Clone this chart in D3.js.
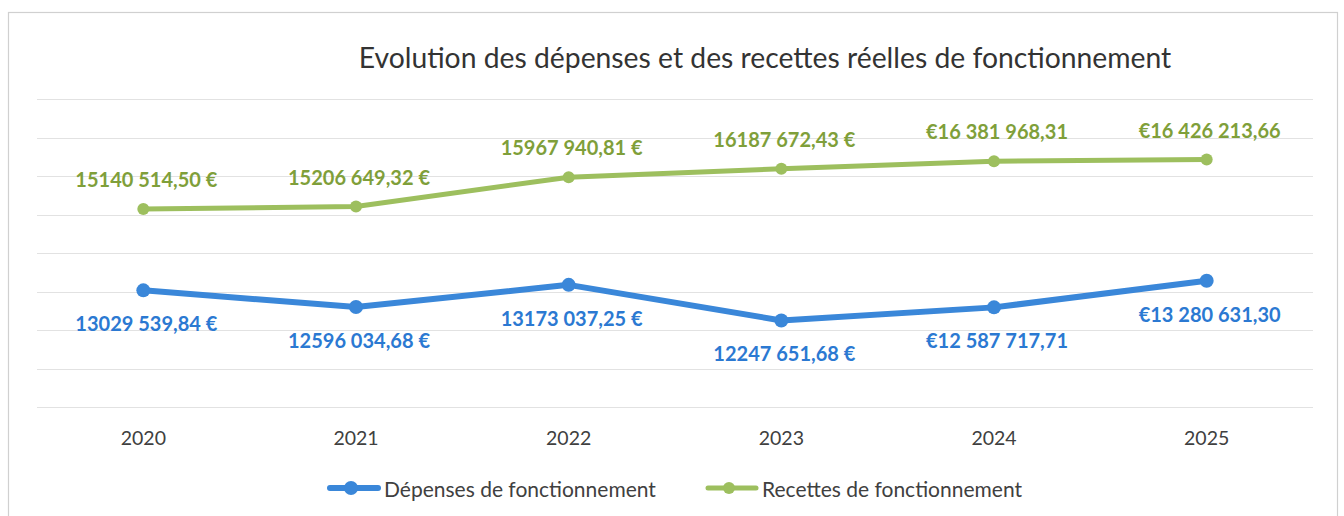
<!DOCTYPE html>
<html><head><meta charset="utf-8">
<script src="https://cdn.jsdelivr.net/npm/d3@7"></script>
<style>
html,body{margin:0;padding:0;background:#fff;}
svg{display:block;}
</style></head>
<body>
<svg id="chart" width="1344" height="516"></svg>
<script>
const title = "Evolution des dépenses et des recettes réelles de fonctionnement";
const years = ["2020","2021","2022","2023","2024","2025"];
const depenses = [13029539.84, 12596034.68, 13173037.25, 12247651.68, 12587717.71, 13280631.30];
const recettes = [15140514.50, 15206649.32, 15967940.81, 16187672.43, 16381968.31, 16426213.66];
const depensesLabels = ["13029 539,84 €","12596 034,68 €","13173 037,25 €","12247 651,68 €","€12 587 717,71","€13 280 631,30"];
const recettesLabels = ["15140 514,50 €","15206 649,32 €","15967 940,81 €","16187 672,43 €","€16 381 968,31","€16 426 213,66"];
const seriesNames = ["Dépenses de fonctionnement","Recettes de fonctionnement"];
const yDomain = [10000000, 18000000];
const yTicks = [10000000,11000000,12000000,13000000,14000000,15000000,16000000,17000000,18000000];

const blue = "#3a87d9", green = "#9dbf5e";
const blueText = "#2b79d2", greenText = "#7f9f3a";
const font = "Lato, 'Open Sans', sans-serif";

const svg = d3.select("#chart");
// frame
svg.append("rect").attr("x",8.5).attr("y",12.5).attr("width",1329).attr("height",520)
  .attr("fill","none").attr("stroke","#d0d0d0").attr("stroke-width",1.2);

const x = d3.scaleBand().domain(years).range([37,1313]);
const y = d3.scaleLinear().domain(yDomain).range([407,99]);
const cx = d => x(d) + x.bandwidth()/2;

// gridlines
svg.append("g").selectAll("line").data(yTicks).join("line")
  .attr("x1",37).attr("x2",1313)
  .attr("y1",d=>Math.round(y(d))+0.5).attr("y2",d=>Math.round(y(d))+0.5)
  .attr("stroke","#e2e2e2").attr("stroke-width",1.2);

// x axis labels
const xAxis = d3.axisBottom(x).tickSize(0).tickPadding(0);
const gx = svg.append("g").attr("transform","translate(0,437)").call(xAxis);
gx.select(".domain").remove();
gx.selectAll("text").attr("font-family",font).attr("font-size",19.5).attr("fill","#404040")
  .attr("dy",null).attr("y",0).attr("dominant-baseline","central");

// title
svg.append("text").attr("x",765).attr("y",68).attr("text-anchor","middle")
  .attr("font-family",font).attr("font-size",28.3).attr("fill","#333")
  .text(title);

const line = d3.line().x((d,i)=>cx(years[i])).y(d=>y(d));

function drawSeries(vals, color, w, r, labels, textColor, dy){
  const g = svg.append("g");
  g.append("path").datum(vals).attr("d",line).attr("fill","none")
    .attr("stroke",color).attr("stroke-width",w).attr("stroke-linejoin","round");
  g.selectAll("circle").data(vals).join("circle")
    .attr("cx",(d,i)=>cx(years[i])).attr("cy",d=>y(d)).attr("r",r).attr("fill",color);
  g.selectAll("text").data(vals).join("text")
    .attr("x",(d,i)=>cx(years[i])+3).attr("y",d=>y(d)+dy)
    .attr("text-anchor","middle").attr("dominant-baseline","central")
    .attr("font-family",font).attr("font-weight","bold").attr("font-size",20)
    .attr("fill",textColor).text((d,i)=>labels[i]);
}
drawSeries(recettes, green, 5, 6, recettesLabels, greenText, -30);
drawSeries(depenses, blue, 6, 7, depensesLabels, blueText, 33);

// legend
const legend = [
  {name:seriesNames[0], color:blue, x0:330, w:6, r:7},
  {name:seriesNames[1], color:green, x0:708, w:5, r:6}
];
const lg = svg.append("g");
legend.forEach(l=>{
  lg.append("line").attr("x1",l.x0).attr("x2",l.x0+48).attr("y1",488).attr("y2",488)
    .attr("stroke",l.color).attr("stroke-width",l.w).attr("stroke-linecap","round");
  lg.append("circle").attr("cx",l.x0+21).attr("cy",488).attr("r",l.r).attr("fill",l.color);
  lg.append("text").attr("x",l.x0+54).attr("y",488).attr("dominant-baseline","central")
    .attr("font-family",font).attr("font-size",21).attr("fill","#404040").text(l.name);
});
</script>
</body></html>
